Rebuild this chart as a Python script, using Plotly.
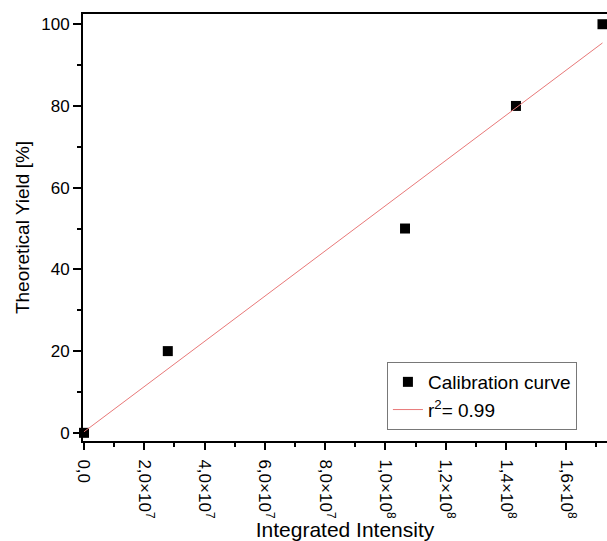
import numpy as np
import plotly.graph_objects as go

# Calibration data
intensity = [0.0, 2.78e7, 1.065e8, 1.433e8, 1.72e8]
yield_pct = [0, 20, 50, 80, 100]

x_tick_vals = [0, 2e7, 4e7, 6e7, 8e7, 1.0e8, 1.2e8, 1.4e8, 1.6e8]
x_tick_text = ["0,0", "2,0×10<sup>7</sup>", "4,0×10<sup>7</sup>", "6,0×10<sup>7</sup>",
               "8,0×10<sup>7</sup>", "1,0×10<sup>8</sup>", "1,2×10<sup>8</sup>",
               "1,4×10<sup>8</sup>", "1,6×10<sup>8</sup>"]

# Linear least-squares fit of yield vs intensity
slope, intercept = np.polyfit(intensity, yield_pct, 1)
fit_x = [intensity[0], intensity[-1]]
fit_y = [slope * v + intercept for v in fit_x]

font = "Liberation Sans, Arial, sans-serif"

fig = go.Figure()
fig.add_trace(go.Scatter(
    x=intensity, y=yield_pct, mode="markers", name="Calibration curve",
    marker=dict(symbol="square", size=10, color="black"),
    cliponaxis=False,
))
fig.add_trace(go.Scatter(
    x=fit_x, y=fit_y, mode="lines", name="r<sup>2</sup>= 0.99",
    line=dict(color="rgb(232,120,120)", width=1),
))

fig.update_layout(
    width=607, height=541,
    margin=dict(l=83, r=0, t=14, b=100),
    paper_bgcolor="white", plot_bgcolor="white",
    font=dict(family=font, size=17, color="black"),
    showlegend=True,
    legend=dict(
        x=0.58, y=0.185, xanchor="left", yanchor="top",
        bordercolor="rgb(120,120,120)", borderwidth=1,
        bgcolor="white", font=dict(size=19), tracegroupgap=0,
    ),
    xaxis=dict(
        range=[-3.3e5, 1.735e8],
        tickvals=x_tick_vals, ticktext=x_tick_text, tickangle=90,
        ticks="outside", ticklen=7, tickwidth=1.5, tickcolor="black",
        minor=dict(ticks="outside", ticklen=4, dtick=1e7, tickwidth=1.5, tickcolor="black"),
        showline=True, linewidth=2, linecolor="black", mirror=True,
        showgrid=False, zeroline=False,
        ticklabelstandoff=6,
        title=dict(text="Integrated Intensity", font=dict(size=21), standoff=0),
        tickfont=dict(size=17),
    ),
    yaxis=dict(
        range=[-2.0, 102.5],
        tickvals=[0, 20, 40, 60, 80, 100],
        ticks="outside", ticklen=8, tickwidth=1.5, tickcolor="black",
        minor=dict(ticks="outside", ticklen=4, dtick=10, tickwidth=1.5, tickcolor="black"),
        showline=True, linewidth=2, linecolor="black",
        showgrid=False, zeroline=False,
        title=dict(text="Theoretical Yield [%]", font=dict(size=19), standoff=7),
        tickfont=dict(size=17),
    ),
)

fig.write_html("out.html")
